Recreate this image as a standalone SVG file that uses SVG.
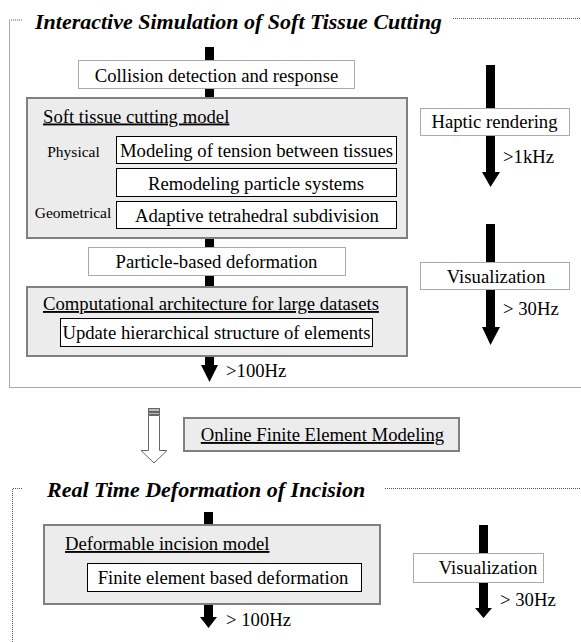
<svg xmlns="http://www.w3.org/2000/svg" width="581" height="642" viewBox="0 0 581 642">
<style>
text{font-family:"Liberation Serif","Times New Roman",serif;fill:#000}
.t{font-size:18.7px}
.s{font-size:15.5px}
.title{font-size:22px;font-weight:bold;font-style:italic}
.u{text-decoration:underline}
.dot{fill:#fff;stroke:#555;stroke-width:1;stroke-dasharray:1 1}
.frame{fill:none;stroke:#555;stroke-width:1;stroke-dasharray:1 1}
.gray{fill:#ececec;stroke:#808080;stroke-width:2}
.white{fill:#fff;stroke:#000;stroke-width:1}
.bar{fill:#000}
</style>
<rect width="581" height="642" fill="#fff"/>
<g id="frame1">
<path class="frame" d="M22,20 H9.5 V387.5 H581"/>
<path class="frame" d="M453,18.5 H581"/>
<text class="title" x="35" y="29">Interactive Simulation of Soft Tissue Cutting</text>
</g>
<g id="frame2">
<path class="frame" d="M22,488.5 H12.5 V642"/>
<path class="frame" d="M385,488.5 H581"/>
<text class="title" x="47" y="497">Real Time Deformation of Incision</text>
</g>
<g id="connectors">
<rect class="bar" x="205" y="47" width="9" height="13"/>
<rect class="bar" x="205" y="89" width="9" height="9"/>
<rect class="bar" x="205" y="238" width="9" height="9"/>
<rect class="bar" x="205" y="276" width="9" height="11"/>
<path class="bar" d="M205,356 H214 V365 H218 L209.5,382 L201,365 H205 Z"/>
<rect class="bar" x="486" y="65" width="9" height="43"/>
<path class="bar" d="M486,136 H495 V172 H500 L490.5,187 L482,172 H486 Z"/>
<rect class="bar" x="486" y="224" width="9" height="38"/>
<path class="bar" d="M486,290 H495 V327 H500 L490.5,345 L482,327 H486 Z"/>
<path d="M68,180 H76 V194 H78.5 L72,201 L65.5,194 H68 Z M68,180 H65.5 L72,172 L78.5,180 H76" fill="#000"/>
<rect x="148.5" y="408.5" width="11" height="3" fill="#bbb" stroke="#666" stroke-width="1"/>
<rect x="148.5" y="412.5" width="11" height="2" fill="#bbb" stroke="#666" stroke-width="1"/>
<path d="M148.5,415.5 H159.5 V450.5 H167 L154,463 L141,450.5 H148.5 Z" fill="#fff" stroke="#666" stroke-width="1"/>
<rect class="bar" x="204" y="512" width="9" height="13"/>
<path class="bar" d="M204,604 H213 V617 H217 L208.5,628 L200,617 H204 Z"/>
<rect class="bar" x="479" y="525" width="9" height="28"/>
<path class="bar" d="M479,583 H488 V608 H492 L483.5,618 L475,608 H479 Z"/>
</g>
<g id="collision">
<rect class="dot" x="78.5" y="60.5" width="276" height="28"/>
<text class="t" x="216.5" y="82" text-anchor="middle">Collision detection and response</text>
</g>
<g id="cutting-model">
<rect class="gray" x="27" y="98" width="380" height="140"/>
<text class="t u" x="43" y="122.5">Soft tissue cutting model</text>
<text class="s" x="73.5" y="157" text-anchor="middle">Physical</text>
<text class="s" x="73" y="218" text-anchor="middle">Geometrical</text>
</g>
<g id="tension">
<rect class="white" x="116.5" y="136.5" width="280" height="27"/>
<text class="t" x="256.5" y="156.5" text-anchor="middle">Modeling of tension between tissues</text>
</g>
<g id="remodeling">
<rect class="white" x="116.5" y="168.5" width="280" height="28"/>
<text class="t" x="256" y="189.5" text-anchor="middle">Remodeling particle systems</text>
</g>
<g id="adaptive">
<rect class="white" x="116.5" y="201.5" width="280" height="27"/>
<text class="t" x="257" y="221.5" text-anchor="middle">Adaptive tetrahedral subdivision</text>
</g>
<g id="particle">
<rect class="dot" x="88.5" y="247.5" width="257" height="28"/>
<text class="t" x="216.5" y="268" text-anchor="middle">Particle-based deformation</text>
</g>
<g id="comp-arch">
<rect class="gray" x="27" y="287" width="380" height="69"/>
<text class="t u" x="43" y="310">Computational architecture for large datasets</text>
</g>
<g id="update">
<rect class="white" x="60.5" y="318.5" width="312" height="28"/>
<text class="t" x="216.5" y="339" text-anchor="middle">Update hierarchical structure of elements</text>
</g>
<g id="rate100-1"><text class="t" x="226" y="377">&gt;100Hz</text></g>
<g id="haptic">
<rect class="dot" x="420.5" y="108.5" width="149" height="27"/>
<text class="t" x="494.5" y="128" text-anchor="middle">Haptic rendering</text>
<text class="t" x="503" y="163">&gt;1kHz</text>
</g>
<g id="vis1">
<rect class="dot" x="420.5" y="262.5" width="149" height="27"/>
<text class="t" x="496" y="283" text-anchor="middle">Visualization</text>
<text class="t" x="503" y="315">&gt; 30Hz</text>
</g>
<g id="online-fem">
<rect class="gray" x="184" y="418" width="275" height="33"/>
<text class="t u" x="322.5" y="441" text-anchor="middle">Online Finite Element Modeling</text>
</g>
<g id="incision-model">
<rect class="gray" x="44" y="525" width="336" height="79"/>
<text class="t u" x="65" y="550">Deformable incision model</text>
</g>
<g id="fe-deform">
<rect class="white" x="87.5" y="563.5" width="274" height="28"/>
<text class="t" x="223" y="584" text-anchor="middle">Finite element based deformation</text>
</g>
<g id="rate100-2"><text class="t" x="226" y="626">&gt; 100Hz</text></g>
<g id="vis2">
<rect class="dot" x="413.5" y="553.5" width="130" height="29"/>
<text class="t" x="488" y="574" text-anchor="middle">Visualization</text>
<text class="t" x="500" y="606">&gt; 30Hz</text>
</g>
</svg>
